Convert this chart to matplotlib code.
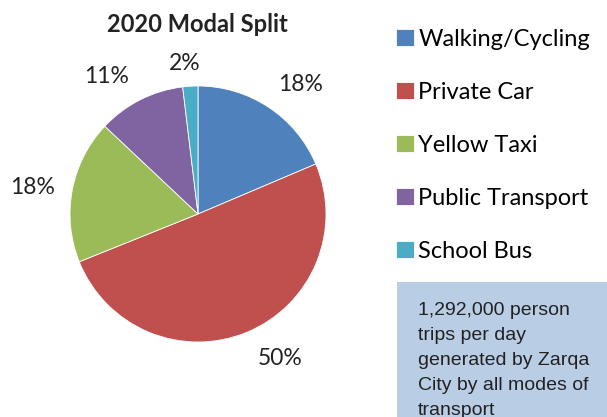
import numpy as np
import matplotlib
matplotlib.use("Agg")
import matplotlib.pyplot as plt
from matplotlib.patches import Rectangle

# data
modes = ["Walking/Cycling", "Private Car", "Yellow Taxi", "Public Transport", "School Bus"]
shares = [18.5, 50.0, 18.0, 11.0, 1.9]
pct_labels = ["18%", "50%", "18%", "11%", "2%"]
colors = ["#4F81BD", "#C0504D", "#9BBB59", "#8064A2", "#4BACC6"]
note_lines = ["1,292,000 person", "trips per day", "generated by Zarqa",
              "City by all modes of", "transport"]

W, H = 607, 417
fig = plt.figure(figsize=(W / 100, H / 100), dpi=100)
fig.patch.set_facecolor("white")

# pie axes: centre (198, 214) px, radius 128 px
cx, cy, r = 198, 214, 128
ax = fig.add_axes([(cx - r) / W, (H - cy - r) / H, 2 * r / W, 2 * r / H])
wedges, _ = ax.pie(shares, colors=colors, startangle=90, counterclock=False,
                   radius=1.0, wedgeprops=dict(linewidth=0.6, edgecolor="white"))
ax.set_xlim(-1, 1)
ax.set_ylim(-1, 1)
ax.set_aspect("equal")
ax.axis("off")

# percentage labels outside the slices (Excel-like placement)
label_dist = [1.29, 1.30, 1.31, 1.29, 1.18]
label_shift = [-5, 7, 1.5, 7, 1.6]   # degrees off the slice middle
for w, lab, d, s in zip(wedges, pct_labels, label_dist, label_shift):
    ang = np.deg2rad((w.theta1 + w.theta2) / 2 + s)
    ax.text(d * np.cos(ang), d * np.sin(ang), lab, ha="center", va="center",
            fontsize=16.5, family="Lato", color="#222222", clip_on=False)

fig.text(197 / W, 1 - 24 / H, "2020 Modal Split", ha="center", va="center",
         fontsize=17, fontweight="bold", family="Lato", color="#222222")

# legend
fig.legend(wedges, modes, loc="upper left", bbox_to_anchor=(396 / W, 1 - 28.5 / H),
           frameon=False, prop=dict(family="Lato", size=17),
           handlelength=0.75, handleheight=0.75, handletextpad=0.2,
           labelspacing=1.36, borderaxespad=0, borderpad=0)

# note box
fig.patches.append(Rectangle((397 / W, 0), 1 - 397 / W, (H - 282) / H,
                             transform=fig.transFigure, facecolor="#B9CDE5",
                             edgecolor="none", zorder=0))
for i, line in enumerate(note_lines):
    fig.text(418 / W, 1 - (315 + 25 * i) / H, line, ha="left", va="baseline",
             fontsize=14, family="Liberation Sans", color="#222222")

fig.savefig("out.png", dpi=100, facecolor="white")
